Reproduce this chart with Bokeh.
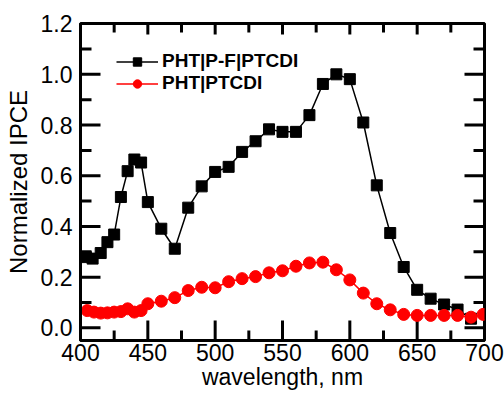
from bokeh.plotting import figure
from bokeh.models import FixedTicker, PrintfTickFormatter, Range1d, Legend, LegendItem
from bokeh.embed import file_html
from bokeh.resources import INLINE

# PHT|P-F|PTCDI (black squares)
wl_pf = [404, 409, 415, 420, 425, 430, 435, 440, 445, 450, 460, 470, 480, 490,
         500, 510, 520, 530, 540, 550, 560, 570, 580, 590, 600, 610, 620, 630,
         640, 650, 660, 670, 680, 690]
ipce_pf = [0.279, 0.273, 0.295, 0.338, 0.368, 0.516, 0.618, 0.664, 0.652, 0.496,
           0.391, 0.312, 0.474, 0.558, 0.615, 0.635, 0.694, 0.736, 0.783, 0.773,
           0.773, 0.839, 0.962, 1.000, 0.981, 0.810, 0.562, 0.374, 0.240, 0.150,
           0.115, 0.092, 0.072, 0.036]

# PHT|PTCDI (red circles)
wl_p = [405, 410, 415, 420, 425, 430, 435, 440, 445, 450, 460, 470, 480, 490,
        500, 510, 520, 530, 540, 550, 560, 570, 580, 590, 600, 610, 620, 630,
        640, 650, 660, 670, 680, 690, 699]
ipce_p = [0.068, 0.062, 0.058, 0.059, 0.062, 0.064, 0.075, 0.062, 0.068, 0.095,
          0.105, 0.119, 0.147, 0.160, 0.158, 0.182, 0.194, 0.202, 0.217, 0.225,
          0.243, 0.256, 0.259, 0.229, 0.189, 0.137, 0.095, 0.071, 0.053, 0.049,
          0.049, 0.049, 0.049, 0.042, 0.053]

# tick values
x_major = [400, 450, 500, 550, 600, 650, 700]
x_minor = [425, 475, 525, 575, 625, 675]
y_major = [0.0, 0.2, 0.4, 0.6, 0.8, 1.0, 1.2]
y_minor = [0.1, 0.3, 0.5, 0.7, 0.9, 1.1]

label_pf = "PHT|P-F|PTCDI"
label_p = "PHT|PTCDI"
x_label = "wavelength, nm"
y_label = "Normalized IPCE"

FONT = "Liberation Sans"
X0, X1 = 400, 700
Y0, Y1 = -0.05, 1.2005
W, H = 504, 396
BL, BR, BT, BB = 80, 20, 23, 56
FW, FH = W - BL - BR, H - BT - BB
DX = (X1 - X0) / FW   # data units per pixel
DY = (Y1 - Y0) / FH

p = figure(width=W, height=H, x_range=Range1d(X0, X1), y_range=Range1d(Y0, Y1),
           output_backend="svg", toolbar_location=None,
           min_border_left=BL, min_border_right=BR, min_border_top=BT, min_border_bottom=BB)
p.grid.visible = False
p.outline_line_color = "black"
p.outline_line_width = 3

p.xaxis.ticker = FixedTicker(ticks=x_major)
p.yaxis.ticker = FixedTicker(ticks=y_major)
p.yaxis.formatter = PrintfTickFormatter(format="%.1f")
for ax in (p.xaxis[0], p.yaxis[0]):
    ax.axis_line_width = 3
    ax.axis_line_color = "black"
    ax.major_tick_line_color = None
    ax.minor_tick_line_color = None
    ax.major_tick_in = 0
    ax.major_tick_out = 0
    ax.minor_tick_in = 0
    ax.minor_tick_out = 0
    ax.major_label_text_font = FONT
    ax.major_label_text_font_size = "23px"
    ax.major_label_text_color = "black"
    ax.axis_label_text_font = FONT
    ax.axis_label_text_font_style = "normal"
    ax.axis_label_text_color = "black"
p.xaxis.major_label_standoff = 3
p.yaxis.major_label_standoff = 8
p.xaxis.axis_label = x_label
p.xaxis.axis_label_text_font_size = "23px"
p.xaxis.axis_label_standoff = 0
p.yaxis.axis_label = y_label
p.yaxis.axis_label_text_font_size = "24px"
p.yaxis.axis_label_standoff = 6

# inward tick marks from the tick values, as one broken line (NaN separates ticks)
NAN = float("nan")
tx, ty = [], []
def vticks(xs, edge, length_px, inward):
    for x in xs:
        tx.extend([x, x, NAN])
        ty.extend([edge + inward * 0.5 * DY, edge + inward * length_px * DY, NAN])

def hticks(ys, edge, length_px, inward):
    for y in ys:
        tx.extend([edge + inward * 0.5 * DX, edge + inward * length_px * DX, NAN])
        ty.extend([y, y, NAN])

vticks(x_major[1:-1], Y0, 20, 1)
vticks(x_minor, Y0, 10, 1)
vticks(x_major[1:-1], Y1, 11, -1)
vticks(x_minor, Y1, 9, -1)
hticks(y_major[:-1], X0, 20, 1)
hticks(y_minor, X0, 11, 1)
hticks(y_major[:-1], X1, 20, -1)
hticks(y_minor, X1, 11, -1)
p.line(tx, ty, line_color="black", line_width=3)

l1 = p.line(wl_pf, ipce_pf, line_color="black", line_width=1.5)
s1 = p.scatter(wl_pf, ipce_pf, marker="square", size=11, fill_color="black", line_color="black")
l2 = p.line(wl_p, ipce_p, line_color="red", line_width=1.5)
s2 = p.scatter(wl_p, ipce_p, marker="circle", size=12, fill_color="red", line_color="red")

legend = Legend(items=[LegendItem(label=label_pf, renderers=[l1, s1]),
                       LegendItem(label=label_p, renderers=[l2, s2])],
                location=(36, 246))
legend.label_text_font = FONT
legend.label_text_font_style = "bold"
legend.label_text_font_size = "19px"
legend.label_text_color = "black"
legend.glyph_width = 42
legend.glyph_height = 21
legend.label_height = 21
legend.spacing = 0
legend.padding = 0
legend.margin = 0
legend.label_standoff = 4
legend.background_fill_alpha = 0
legend.border_line_color = None
p.add_layout(legend)

open("out.html", "w").write(file_html(p, INLINE))
